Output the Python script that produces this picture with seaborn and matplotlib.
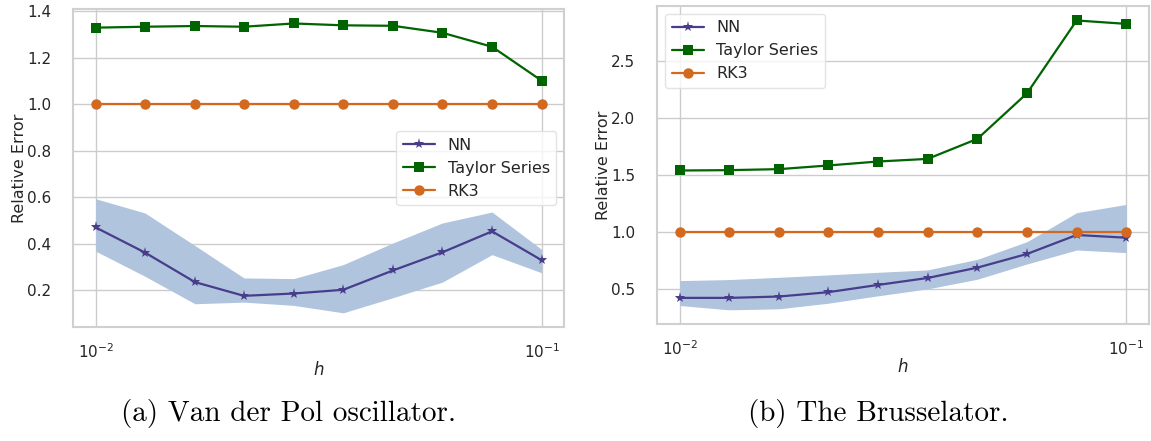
import numpy as np
import pandas as pd
import matplotlib
matplotlib.use("Agg")
import matplotlib.pyplot as plt
import seaborn as sns

# Step sizes (log-spaced between 1e-2 and 1e-1)
h = [0.01, 0.0129, 0.0167, 0.0215, 0.0278, 0.0359, 0.0464, 0.0599, 0.0774, 0.1]

# Van der Pol oscillator
vdp_nn = [0.471, 0.363, 0.236, 0.177, 0.187, 0.203, 0.286, 0.364, 0.454, 0.330]
vdp_nn_lo = [0.369, 0.261, 0.143, 0.150, 0.136, 0.104, 0.169, 0.236, 0.354, 0.276]
vdp_nn_hi = [0.594, 0.533, 0.393, 0.254, 0.251, 0.311, 0.404, 0.490, 0.537, 0.376]
vdp_taylor = [1.329, 1.333, 1.336, 1.333, 1.347, 1.339, 1.337, 1.307, 1.247, 1.101]
vdp_rk3 = [1.0] * 10

# Brusselator
bru_nn = [0.421, 0.421, 0.433, 0.471, 0.535, 0.596, 0.687, 0.807, 0.974, 0.950]
bru_nn_lo = [0.354, 0.316, 0.325, 0.374, 0.439, 0.500, 0.585, 0.719, 0.842, 0.819]
bru_nn_hi = [0.573, 0.582, 0.602, 0.623, 0.646, 0.667, 0.760, 0.915, 1.170, 1.243]
bru_taylor = [1.541, 1.544, 1.553, 1.585, 1.620, 1.643, 1.819, 2.219, 2.860, 2.830]
bru_rk3 = [1.0] * 10

captions = ["(a) Van der Pol oscillator.", "(b) The Brusselator."]

sns.set_theme(style="whitegrid")
plt.rcParams["font.family"] = ["DejaVu Sans"]

W, H = 1151, 441
fig = plt.figure(figsize=(W / 100, H / 100), dpi=100)
ax1 = fig.add_axes([73.3 / W, 1 - 327.3 / H, 490.7 / W, 318.3 / H])
ax2 = fig.add_axes([657.3 / W, 1 - 324.3 / H, 491.4 / W, 318.3 / H])

c_nn = "#483D8B"
c_band = "#B0C4DE"
c_taylor = "#006400"
c_rk3 = "#D2691E"


def draw(ax, nn, lo, hi, taylor, rk3, legend_loc):
    df = pd.DataFrame({"h": h, "NN": nn, "Taylor Series": taylor, "RK3": rk3})
    ax.fill_between(h, lo, hi, color=c_band, linewidth=0, zorder=1)
    sns.lineplot(data=df, x="h", y="NN", ax=ax, color=c_nn, marker="*",
                 markersize=8, markeredgewidth=0, linewidth=1.6, label="NN", zorder=3)
    sns.lineplot(data=df, x="h", y="Taylor Series", ax=ax, color=c_taylor, marker="s",
                 markersize=7.5, markeredgewidth=0, linewidth=1.6, label="Taylor Series", zorder=3)
    sns.lineplot(data=df, x="h", y="RK3", ax=ax, color=c_rk3, marker="o",
                 markersize=7.5, markeredgewidth=0, linewidth=1.6, label="RK3", zorder=3)
    ax.set_xscale("log")
    ax.minorticks_off()
    ax.set_xlabel("$h$", fontsize=12, labelpad=0)
    ax.set_ylabel("Relative Error", fontsize=11.5, labelpad=0)
    ax.tick_params(axis="y", labelsize=11, pad=10)
    ax.tick_params(axis="x", labelsize=11, pad=5)
    for s in ax.spines.values():
        s.set_color("#d0d0d0")
        s.set_linewidth(1.5)
    leg = ax.legend(loc=legend_loc, fontsize=11.5, frameon=True)
    leg.get_frame().set_edgecolor("#dddddd")


draw(ax1, vdp_nn, vdp_nn_lo, vdp_nn_hi, vdp_taylor, vdp_rk3, "center right")
draw(ax2, bru_nn, bru_nn_lo, bru_nn_hi, bru_taylor, bru_rk3, "upper left")
ax1.set_yticks([0.2, 0.4, 0.6, 0.8, 1.0, 1.2, 1.4])
ax2.set_yticks([0.5, 1.0, 1.5, 2.0, 2.5])

# Sub-figure captions
fig.text(289 / W, 1 - 413 / H, captions[0], ha="center", va="center",
         fontsize=21, family="cmr10", color="black")
fig.text(878 / W, 1 - 413 / H, captions[1], ha="center", va="center",
         fontsize=21, family="cmr10", color="black")

fig.savefig("out.png", dpi=100)
